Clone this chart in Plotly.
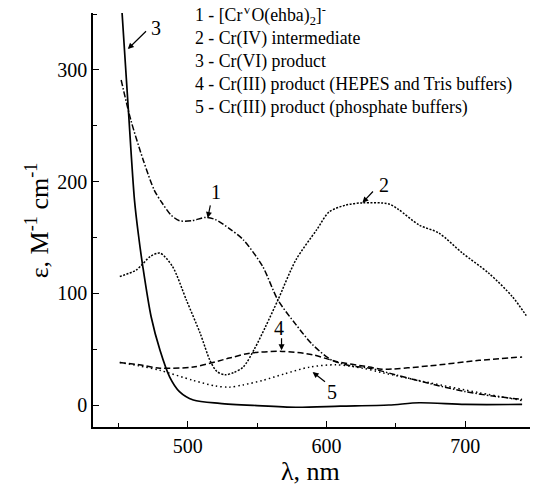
import plotly.graph_objects as go

# Curve 1 - [CrVO(ehba)2]-
wl1 = [452, 459, 468, 476, 482, 488, 494, 503, 513, 520, 530, 540, 554, 565, 578, 590, 604, 618, 631, 650, 675, 700, 720, 741]
eps1 = [291, 255, 219, 192, 180, 170, 165, 165, 168, 166, 158, 148, 124, 94, 72, 54, 40, 35, 33, 27, 19, 12, 8, 5]

# Curve 2 - Cr(IV) intermediate
wl2 = [451, 463, 473, 480, 489, 499, 509, 516, 521, 527, 533, 540, 548, 556, 565, 578, 593, 602, 614, 626, 645, 652, 667, 681, 698, 717, 734, 744]
eps2 = [115, 121, 133, 136, 124, 94, 64, 40, 30, 27, 29, 34, 50, 70, 94, 130, 157, 173, 179, 181, 180, 175, 161, 154, 136, 118, 97, 80]

# Curve 3 - Cr(VI) product
wl3 = [452.5, 457, 461.6, 464.5, 467.6, 473.6, 480, 487, 494, 504, 523, 550, 578, 610, 645, 667, 700, 741]
eps3 = [354, 268, 183.5, 152, 124, 79, 49, 25, 12, 4.5, 1.5, -0.5, -2, -1, 0, 2, 0.5, 0.5]

# Curve 4 - Cr(III) product (HEPES and Tris buffers)
wl4 = [451, 465, 480, 504, 530, 545, 568, 590, 607, 631, 640, 674, 710, 741]
eps4 = [38, 36, 33, 34, 42, 46.5, 48, 45, 39, 34, 32, 35, 40, 43]

# Curve 5 - Cr(III) product (phosphate buffers)
wl5 = [451, 465, 480, 504, 520, 530, 540, 554, 570, 588, 607, 626, 640, 674, 710, 741]
eps5 = [38, 35, 31, 22, 17, 16, 18, 22, 28, 34, 36, 33, 29, 20, 11, 4]

legend_lines = [
    "1 - [Cr<sup>V</sup>O(ehba)<sub>2</sub>]<sup>-</sup>",
    "2 - Cr(IV) intermediate",
    "3 - Cr(VI) product",
    "4 - Cr(III) product (HEPES and Tris buffers)",
    "5 - Cr(III) product (phosphate buffers)",
]
legend_y = [349, 328.5, 308, 287, 266.5]

FONT = "Liberation Serif, Times New Roman, serif"

fig = go.Figure()
series = [
    (wl1, eps1, "6px,2px,1.5px,2px", 1.5),
    (wl2, eps2, "2px,1.5px", 1.5),
    (wl3, eps3, "solid", 1.7),
    (wl4, eps4, "6px,3px", 1.5),
    (wl5, eps5, "1.5px,3px", 1.5),
]
for x, y, dash, w in series:
    fig.add_trace(go.Scatter(x=x, y=y, mode="lines",
                             line=dict(color="black", width=w, dash=dash, shape="spline", smoothing=0.8),
                             showlegend=False, hoverinfo="skip"))

# legend text block
for txt, yv in zip(legend_lines, legend_y):
    fig.add_annotation(x=503.6, y=yv, xref="x", yref="y", text=txt, showarrow=False,
                       xanchor="left", yanchor="middle", font=dict(family=FONT, size=17.8, color="black"))

# curve labels with arrows: (label, label x, label y, tail x, tail y, tip x, tip y)
labels = [
    ("3", 477, 337.5, 471, 336, 456.8, 318.7),
    ("1", 520, 191, 516.5, 180, 514.4, 167.5),
    ("2", 641.7, 197, 634.5, 192.5, 625.9, 181),
    ("4", 566, 69, 567.6, 61, 567.6, 49),
    ("5", 604, 11.6, 600, 19.7, 590, 29.5),
]
for t, lx, ly, ax, ay, tx, ty in labels:
    fig.add_annotation(x=lx, y=ly, xref="x", yref="y", text=t, showarrow=False,
                       font=dict(family=FONT, size=20, color="black"))
    fig.add_annotation(x=tx, y=ty, ax=ax, ay=ay, xref="x", yref="y", axref="x", ayref="y",
                       text="", showarrow=True, arrowhead=2, arrowsize=1, arrowwidth=1.2,
                       arrowcolor="black")

# axis titles
fig.add_annotation(x=0.491, y=-0.108, xref="paper", yref="paper", text="λ, nm", showarrow=False,
                   xanchor="center", yanchor="middle", font=dict(family=FONT, size=26, color="black"))
fig.add_annotation(x=-0.126, y=0.5, xref="paper", yref="paper",
                   text="ε, M<sup>-1</sup> cm<sup>-1</sup>", showarrow=False, textangle=-90,
                   xanchor="center", yanchor="middle", font=dict(family=FONT, size=26, color="black"))

fig.update_layout(
    width=530, height=477,
    margin=dict(l=85, r=3, t=5, b=58),
    paper_bgcolor="white", plot_bgcolor="white",
    font=dict(family=FONT, color="black"),
    xaxis=dict(range=[431.7, 750.3], tickvals=[500, 600, 700], ticks="inside", ticklen=6,
               tickwidth=1.2, tickcolor="black", showline=True, linecolor="black", linewidth=1.5,
               showgrid=False, zeroline=False, tickfont=dict(family=FONT, size=20),
               minor=dict(tickvals=[450, 550, 650, 750], ticks="inside", ticklen=4, tickcolor="black")),
    yaxis=dict(range=[-19.7, 351], tickvals=[0, 100, 200, 300], ticks="inside", ticklen=6,
               tickwidth=1.2, tickcolor="black", showline=True, linecolor="black", linewidth=1.5,
               showgrid=False, zeroline=False, tickfont=dict(family=FONT, size=20),
               minor=dict(tickvals=[50, 150, 250, 350], ticks="inside", ticklen=4, tickcolor="black")),
)

fig.write_html("out.html")
